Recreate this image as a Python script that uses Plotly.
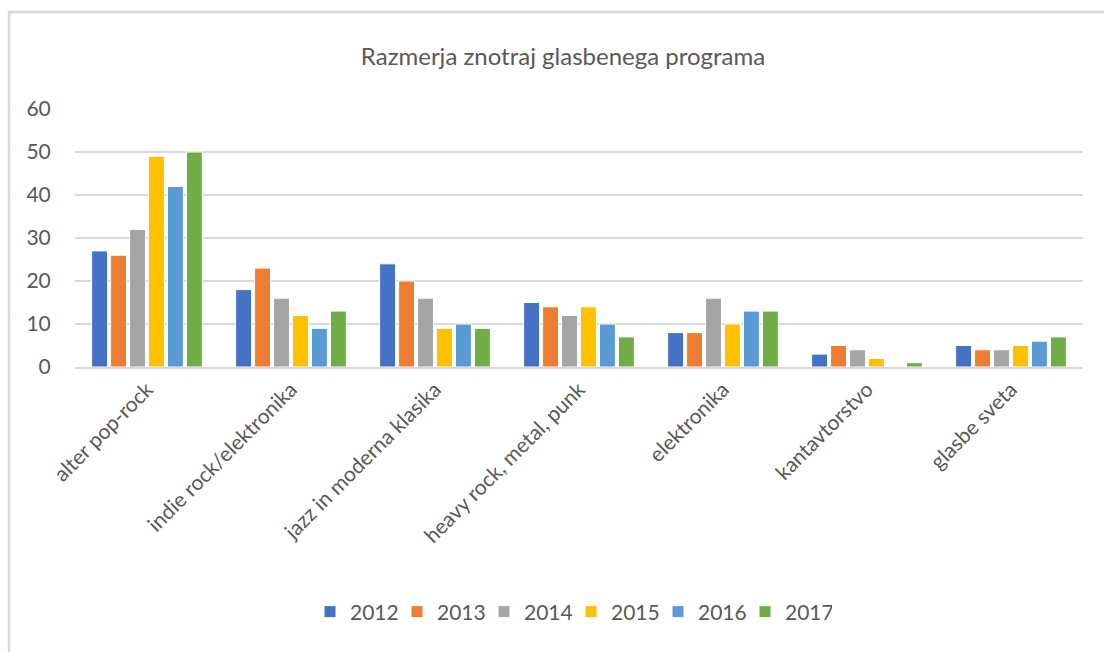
import plotly.graph_objects as go

categories = ["alter pop-rock", "indie rock/elektronika", "jazz in moderna klasika",
              "heavy rock, metal, punk", "elektronika", "kantavtorstvo", "glasbe sveta"]
years = ["2012", "2013", "2014", "2015", "2016", "2017"]
v2012 = [27, 18, 24, 15, 8, 3, 5]
v2013 = [26, 23, 20, 14, 8, 5, 4]
v2014 = [32, 16, 16, 12, 16, 4, 4]
v2015 = [49, 12, 9, 14, 10, 2, 5]
v2016 = [42, 9, 10, 10, 13, 0, 6]
v2017 = [50, 13, 9, 7, 13, 1, 7]
series = [v2012, v2013, v2014, v2015, v2016, v2017]
colors = ["#4472C4", "#ED7D31", "#A5A5A5", "#FFC000", "#5B9BD5", "#70AD47"]
yticks = [0, 10, 20, 30, 40, 50, 60]

W, H = 1104, 652
L, R, T, B = 75, 21, 109, 285

fig = go.Figure()
for name, vals, c in zip(years, series, colors):
    fig.add_trace(go.Bar(name=name, x=categories, y=vals, marker_color=c,
                         marker_line_color="white", marker_line_width=1))

font = "Lato, 'Open Sans', sans-serif"
pw = W - L - R
ph = H - T - B

def px(x):
    return (x - L) / pw

def py(y):
    return (H - B - y) / ph

fig.update_layout(
    width=W, height=H,
    margin=dict(l=L, r=R, t=T, b=B, autoexpand=False),
    paper_bgcolor="white", plot_bgcolor="white",
    barmode="group", bargap=0.21, bargroupgap=0.16,
    title=dict(text="Razmerja znotraj glasbenega programa", x=563 / W, xanchor="center",
               y=1 - 57 / H, yanchor="middle", font=dict(family=font, size=24, color="#595959")),
    font=dict(family=font, color="#595959"),
    xaxis=dict(tickangle=-45, tickfont=dict(size=21, color="#595959"), showgrid=False,
               showline=True, linecolor="#d9d9d9", linewidth=2, ticks=""),
    yaxis=dict(range=[0, 60], tickvals=yticks, tickfont=dict(size=21, color="#595959"),
               gridcolor="#d9d9d9", gridwidth=2, zeroline=False, showline=False,
               ticks="outside", ticklen=19, tickcolor="rgba(0,0,0,0)"),
    legend=dict(orientation="h", x=px(571), xanchor="center", y=py(612),
                yanchor="middle", font=dict(size=21, color="#595959"), itemwidth=30,
                entrywidth=42, traceorder="normal"),
    shapes=[dict(type="rect", xref="paper", yref="paper", x0=px(9), x1=px(1115),
                 y0=py(665), y1=py(12),
                 line=dict(color="#d9d9d9", width=2.5), fillcolor="rgba(0,0,0,0)", layer="below")],
)
fig.write_html("out.html", config={"displayModeBar": False},
               post_script="document.body.style.margin='0';document.body.style.overflow='hidden';")
